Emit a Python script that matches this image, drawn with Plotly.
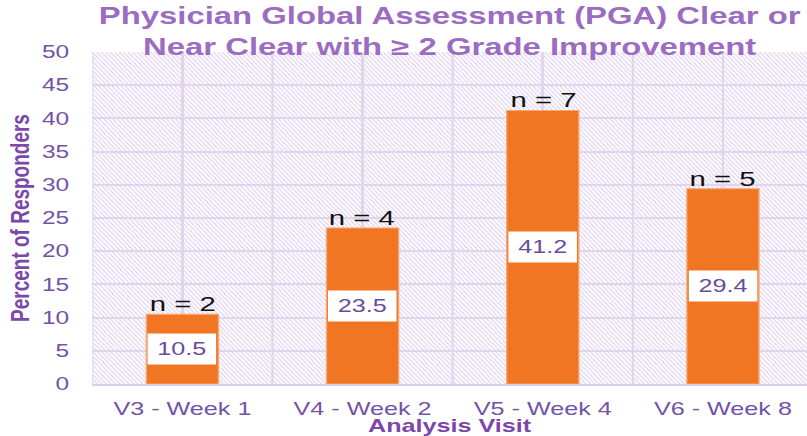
import base64
import plotly.graph_objects as go

# ---------------- data ----------------
categories = ["V3 - Week 1", "V4 - Week 2", "V5 - Week 4", "V6 - Week 8"]
percent_responders = [10.5, 23.5, 41.2, 29.4]
n_responders = [2, 4, 7, 5]
y_tick_values = [0, 5, 10, 15, 20, 25, 30, 35, 40, 45, 50]
category_boundaries = [-0.5, 0.5, 1.5, 2.5]

# ---------------- geometry (the reference is horizontally stretched) ----------------
FULL_W, FULL_H = 807, 436
W0 = 577
S = FULL_W / W0
LEFT = 93 / S
TOP, BOTTOM = 52, 52

FONT = "Liberation Sans, Arial, sans-serif"
TITLE_C = "#9B6CC2"
TICK_C = "#7352A8"
AXTITLE_C = "#7A48AA"
GRID_C = "#E2D4EE"
BAR_C = "#F07623"

# hatch background for the plot area (decoration only)
pw, ph = W0 - LEFT, FULL_H - TOP - BOTTOM
tw, th = 3.2, 4.6
svg = (
    f'<svg xmlns="http://www.w3.org/2000/svg" width="{pw:.1f}" height="{ph:.1f}" '
    f'viewBox="0 0 {pw:.1f} {ph:.1f}" preserveAspectRatio="none">'
    f'<defs><pattern id="h" patternUnits="userSpaceOnUse" width="{tw}" height="{th}">'
    f'<path d="M0,0 L{tw},{th} M{tw-1},-1.4 L{tw+1},1.4 M-1,{th-1.4} L1,{th+1.4}" '
    f'stroke="#DED1EC" stroke-width="1.0"/></pattern></defs>'
    f'<rect width="100%" height="100%" fill="white"/>'
    f'<rect width="100%" height="100%" fill="url(#h)"/></svg>'
)
svg_uri = "data:image/svg+xml;base64," + base64.b64encode(svg.encode()).decode()

fig = go.Figure(
    go.Bar(
        x=categories,
        y=percent_responders,
        width=0.4,
        marker=dict(color=BAR_C, line=dict(color="#F6A673", width=1)),
        hoverinfo="x+y",
    )
)

annotations = []
for c, v, n in zip(categories, percent_responders, n_responders):
    annotations.append(dict(
        x=c, y=v / 2, xref="x", yref="y", text=f"{v:.1f}", showarrow=False,
        bgcolor="white", width=48, height=30, borderpad=0,
        font=dict(family=FONT, size=18, color="#6A4C9C"),
    ))
    annotations.append(dict(
        x=c, y=v, xref="x", yref="y", text=f"n = {n}", showarrow=False,
        yanchor="bottom", yshift=-3,
        font=dict(family=FONT, size=21, color="#111111"),
    ))

shapes = [
    dict(type="line", xref="x", yref="paper", x0=b, x1=b, y0=0, y1=1,
         line=dict(color=GRID_C, width=1.5), layer="below")
    for b in category_boundaries
]

fig.update_layout(
    width=W0, height=FULL_H,
    margin=dict(l=LEFT, r=0, t=TOP, b=BOTTOM, pad=0),
    paper_bgcolor="white",
    plot_bgcolor="rgba(0,0,0,0)",
    showlegend=False,
    bargap=0.6,
    title=dict(
        text="Physician Global Assessment (PGA) Clear or<br>Near Clear with \u2265 2 Grade Improvement",
        x=0.5, xref="paper", xanchor="center",
        y=1, yref="container", yanchor="top", pad=dict(t=24),
        font=dict(family=FONT, size=23.5, color=TITLE_C, weight="bold"),
    ),
    xaxis=dict(
        type="category",
        range=[-0.5, 3.5 - 6 / 180],
        showgrid=True, gridcolor=GRID_C, gridwidth=1.5,
        showline=True, linecolor="#DCCCEA", linewidth=1.5,
        ticks="outside", ticklen=8, tickcolor="rgba(0,0,0,0)",
        tickfont=dict(family=FONT, size=18, color=TICK_C),
        title=dict(text="Analysis Visit", standoff=0,
                   font=dict(family=FONT, size=18, color=AXTITLE_C, weight="bold")),
        fixedrange=True,
    ),
    yaxis=dict(
        range=[0, 50],
        tickmode="array", tickvals=y_tick_values,
        showgrid=True, gridcolor=GRID_C, gridwidth=1.5,
        zeroline=False, showline=False,
        ticks="outside", ticklen=12, tickcolor="rgba(0,0,0,0)",
        tickfont=dict(family=FONT, size=17.5, color=TICK_C),
        title=dict(text="Percent of Responders", standoff=3,
                   font=dict(family=FONT, size=19, color=AXTITLE_C, weight="bold")),
        fixedrange=True,
    ),
    annotations=annotations,
    shapes=shapes,
    images=[dict(
        source=svg_uri, xref="paper", yref="paper", x=0, y=1, sizex=1, sizey=1,
        xanchor="left", yanchor="top", sizing="stretch", layer="below",
    )],
)

post = (
    "var gd=document.getElementById('{plot_id}');"
    "document.documentElement.style.margin='0';"
    "document.body.style.margin='0';"
    "document.body.style.overflow='hidden';"
    f"gd.style.transformOrigin='0 0';gd.style.transform='scaleX({S:.5f})';"
)

fig.write_html("out.html", config={"displayModeBar": False}, post_script=post)
